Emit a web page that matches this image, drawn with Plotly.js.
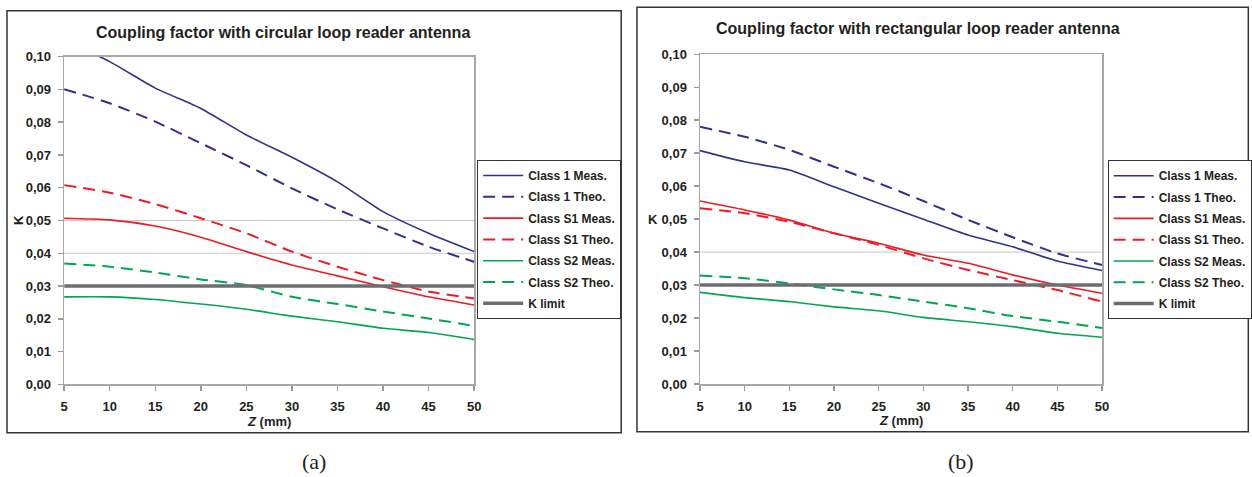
<!DOCTYPE html>
<html>
<head>
<meta charset="utf-8">
<script src="https://cdn.plot.ly/plotly-3.0.1.min.js"></script>
<style>
html,body{margin:0;padding:0;background:#fff;}
#chart{width:1252px;height:477px;}
</style>
</head>
<body>
<div id="chart"></div>
<script>
// ---- data ----
const zValues = [5, 10, 15, 20, 25, 30, 35, 40, 45, 50];
const seriesNames = ["Class 1 Meas.", "Class 1 Theo.", "Class S1 Meas.", "Class S1 Theo.", "Class S2 Meas.", "Class S2 Theo.", "K limit"];

// (a) circular loop reader antenna
const circ_C1_meas  = [0.1050, 0.0985, 0.0904, 0.0842, 0.0761, 0.0693, 0.0618, 0.0527, 0.0461, 0.0405];
const circ_C1_theo  = [0.0901, 0.0858, 0.0802, 0.0736, 0.0669, 0.0598, 0.0534, 0.0476, 0.0420, 0.0374];
const circ_S1_meas  = [0.0507, 0.0502, 0.0483, 0.0449, 0.0405, 0.0364, 0.0331, 0.0298, 0.0267, 0.0242];
const circ_S1_theo  = [0.0608, 0.0585, 0.0550, 0.0507, 0.0461, 0.0405, 0.0359, 0.0318, 0.0283, 0.0262];
const circ_S2_meas  = [0.0267, 0.0267, 0.0259, 0.0245, 0.0229, 0.0208, 0.0191, 0.0171, 0.0158, 0.0137];
const circ_S2_theo  = [0.0369, 0.0359, 0.0341, 0.0320, 0.0303, 0.0267, 0.0245, 0.0222, 0.0201, 0.0178];

// (b) rectangular loop reader antenna
const rect_C1_meas  = [0.0708, 0.0674, 0.0649, 0.0598, 0.0548, 0.0500, 0.0452, 0.0416, 0.0373, 0.0344];
const rect_C1_theo  = [0.0780, 0.0750, 0.0710, 0.0659, 0.0609, 0.0555, 0.0498, 0.0445, 0.0396, 0.0361];
const rect_S1_meas  = [0.0555, 0.0528, 0.0497, 0.0457, 0.0427, 0.0391, 0.0366, 0.0331, 0.0300, 0.0275];
const rect_S1_theo  = [0.0533, 0.0518, 0.0492, 0.0457, 0.0422, 0.0381, 0.0346, 0.0315, 0.0285, 0.0250];
const rect_S2_meas  = [0.0278, 0.0262, 0.0250, 0.0234, 0.0222, 0.0202, 0.0189, 0.0174, 0.0154, 0.0142];
const rect_S2_theo  = [0.0329, 0.0321, 0.0305, 0.0287, 0.0270, 0.0250, 0.0230, 0.0206, 0.0189, 0.0170];

const kLimit = 0.03;
const gridLevelsA = [0.04, 0.05];
const gridLevelsB = [0.04];

const titleA = "Coupling factor with circular loop reader antenna";
const titleB = "Coupling factor with rectangular loop reader antenna";

// ---- styling ----
const W = 1252, H = 477;
const fx = p => p / W;
const fy = p => 1 - p / H;
const FONT = "Arial, Liberation Sans, sans-serif";
const SERIF = "Times New Roman, Liberation Serif, serif";
const BLUE = "#2e3192", RED = "#ed1c24", GREEN = "#00a651", GRAY = "#6d6e71";
const styles = [
  {color: BLUE,  width: 1.6, dash: "solid"},
  {color: BLUE,  width: 2.0, dash: "12px,7px"},
  {color: RED,   width: 1.6, dash: "solid"},
  {color: RED,   width: 2.0, dash: "12px,7px"},
  {color: GREEN, width: 1.6, dash: "solid"},
  {color: GREEN, width: 2.0, dash: "12px,7px"},
  {color: GRAY,  width: 3.5, dash: "solid"}
];

function buildTraces(seriesList, xa, ya, leg, tag) {
  const out = [];
  seriesList.forEach((ys, i) => {
    out.push({
      type: "scatter", mode: "lines",
      x: zValues, y: ys,
      name: "<b>" + seriesNames[i] + "</b>",
      legend: leg, legendgroup: tag + i,
      xaxis: xa, yaxis: ya,
      line: {color: styles[i].color, width: styles[i].width, dash: styles[i].dash,
             shape: i === 6 ? "linear" : "spline", smoothing: 0.6},
      hoverinfo: "skip"
    });
  });
  return out;
}

const kA = zValues.map(() => kLimit);
const traces = []
  .concat(buildTraces([circ_C1_meas, circ_C1_theo, circ_S1_meas, circ_S1_theo, circ_S2_meas, circ_S2_theo, kA], "x", "y", "legend", "a"))
  .concat(buildTraces([rect_C1_meas, rect_C1_theo, rect_S1_meas, rect_S1_theo, rect_S2_meas, rect_S2_theo, kA], "x2", "y2", "legend2", "b"));

const tickFont = {family: FONT, size: 13, color: "#231f20", weight: "bold"};

function xAxis(d0, d1, anchor) {
  return {
    domain: [fx(d0), fx(d1)], anchor: anchor,
    range: [5, 50], tick0: 5, dtick: 5, tickmode: "linear",
    ticks: "outside", ticklen: 5, tickwidth: 1.5, tickcolor: "#9a9a9a",
    showline: true, linecolor: "#a8a8a8", linewidth: 1.5, mirror: true,
    showgrid: false, zeroline: false, ticklabelstandoff: 5,
    tickfont: tickFont,
    fixedrange: true
  };
}
function yAxis(top, bottom, anchor) {
  return {
    domain: [fy(bottom), fy(top)], anchor: anchor,
    range: [0, 0.1], tick0: 0, dtick: 0.01, tickmode: "linear", tickformat: ".2f",
    ticks: "outside", ticklen: 5, tickwidth: 1.5, tickcolor: "#9a9a9a",
    showline: true, linecolor: "#a8a8a8", linewidth: 1.5, mirror: true,
    showgrid: false, zeroline: false, ticklabelstandoff: 4,
    tickfont: tickFont,
    fixedrange: true
  };
}

function legendAt(left, top) {
  return {
    x: fx(left), y: fy(top), xanchor: "left", yanchor: "top",
    bgcolor: "#ffffff", bordercolor: "#333333", borderwidth: 1,
    font: {family: FONT, size: 12, color: "#231f20", weight: "bold"},
    traceorder: "grouped", tracegroupgap: 2.3, itemwidth: 40
  };
}

const shapes = [
  {type: "rect", xref: "paper", yref: "paper", x0: fx(7), x1: fx(622.7), y0: fy(432.7), y1: fy(10.7),
   line: {color: "#333333", width: 1.5}, layer: "below"},
  {type: "rect", xref: "paper", yref: "paper", x0: fx(638.5), x1: fx(1251.3), y0: fy(431.7), y1: fy(7.3),
   line: {color: "#333333", width: 1.5}, layer: "below"}
];
gridLevelsA.forEach(v => shapes.push({type: "line", xref: "x domain", yref: "y", x0: 0, x1: 1, y0: v, y1: v,
  line: {color: "#c8c8c8", width: 1}, layer: "below"}));
gridLevelsB.forEach(v => shapes.push({type: "line", xref: "x2 domain", yref: "y2", x0: 0, x1: 1, y0: v, y1: v,
  line: {color: "#c8c8c8", width: 1}, layer: "below"}));

function ann(text, x, y, size, opts) {
  return Object.assign({text: text, xref: "paper", yref: "paper", x: fx(x), y: fy(y),
    xanchor: "center", yanchor: "middle", showarrow: false,
    font: {family: FONT, size: size, color: "#231f20", weight: "bold"}}, opts || {});
}

const annotations = [
  ann("<b>" + titleA + "</b>", 284, 32, 16),
  ann("<b>" + titleB + "</b>", 920, 29, 16),
  ann("<b><i>Z</i> (mm)</b>", 270, 421.5, 13),
  ann("<b><i>Z</i> (mm)</b>", 903, 420.7, 13),
  ann("<b>K</b>", 18, 220, 13, {textangle: -90}),
  ann("<b>K</b>", 655, 219, 13),
  ann("(a)", 315, 461.7, 22, {font: {family: SERIF, size: 22, color: "#231f20"}}),
  ann("(b)", 963, 461.7, 22, {font: {family: SERIF, size: 22, color: "#231f20"}})
];

const layout = {
  width: W, height: H,
  margin: {l: 0, r: 0, t: 0, b: 0},
  paper_bgcolor: "#ffffff", plot_bgcolor: "#ffffff",
  separators: ",.",
  showlegend: true,
  font: {family: FONT},
  xaxis: xAxis(64.3, 475.3, "y"),
  yaxis: yAxis(56.7, 384.3, "x"),
  xaxis2: xAxis(701.7, 1104.7, "y2"),
  yaxis2: yAxis(54.3, 384.0, "x2"),
  legend: legendAt(478.3, 160),
  legend2: legendAt(1110.3, 160.3),
  shapes: shapes,
  annotations: annotations
};

Plotly.newPlot("chart", traces, layout, {staticPlot: true, displayModeBar: false});
</script>
</body>
</html>
